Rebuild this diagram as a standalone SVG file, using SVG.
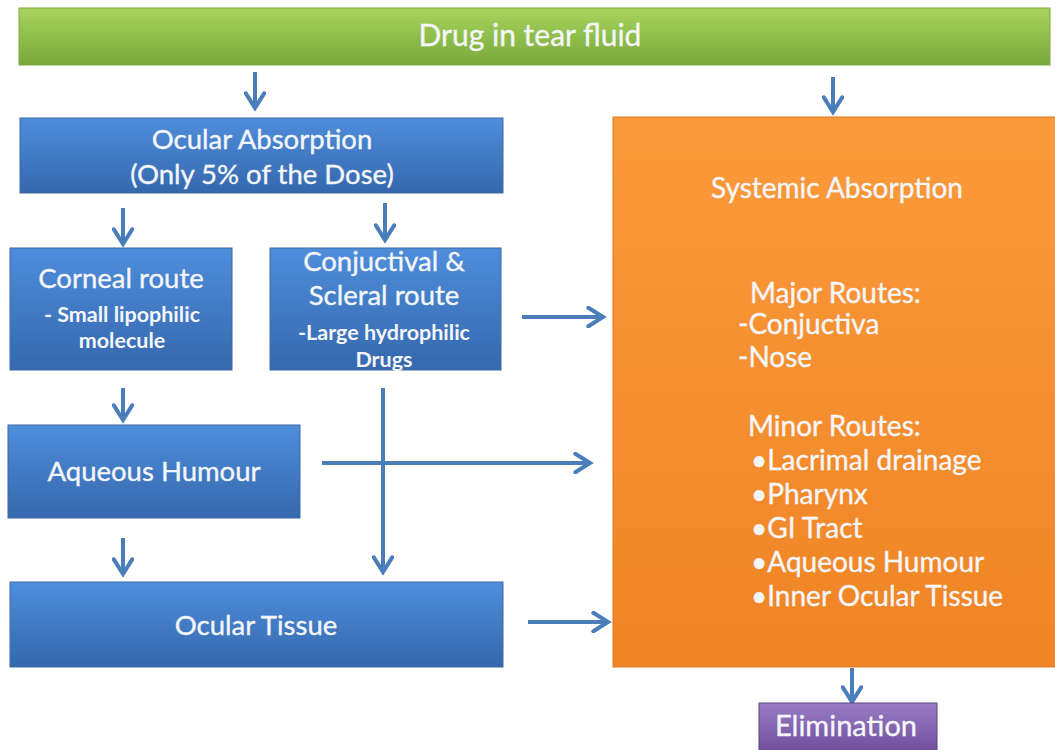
<svg xmlns="http://www.w3.org/2000/svg" width="1055" height="750" viewBox="0 0 1055 750">
<style>
.t{font-family:Lato,"Open Sans","Liberation Sans",sans-serif;fill:#f4f6fa;stroke:#f4f6fa;stroke-width:0.35;text-anchor:middle}
.l{text-anchor:start}
.s{font-weight:bold;stroke-width:0}
.b{stroke:#3d6aa3;stroke-width:1}
.c{fill:none;stroke:#4a7ebb;stroke-width:4;marker-end:url(#ah)}
</style>
<defs>
<linearGradient id="gb" x1="0" y1="0" x2="0" y2="1"><stop offset="0" stop-color="#4f8ddb"/><stop offset="1" stop-color="#3568ad"/></linearGradient>
<linearGradient id="gg" x1="0" y1="0" x2="0" y2="1"><stop offset="0" stop-color="#a8d45e"/><stop offset="1" stop-color="#78a83a"/></linearGradient>
<linearGradient id="go" x1="0" y1="0" x2="0" y2="1"><stop offset="0" stop-color="#fb9a3c"/><stop offset="1" stop-color="#ef8424"/></linearGradient>
<linearGradient id="gp" x1="0" y1="0" x2="0" y2="1"><stop offset="0" stop-color="#9a7cc4"/><stop offset="1" stop-color="#6c4c9a"/></linearGradient>
<marker id="ah" viewBox="0 0 12 12" refX="10" refY="6" markerWidth="5.5" markerHeight="5.5" orient="auto"><path d="M2,1 L10,6 L2,11" fill="none" stroke="#4a7ebb" stroke-width="2.2" stroke-linecap="round"/></marker>
</defs>
<rect width="1055" height="750" fill="#ffffff"/>
<g id="connectors">
<path class="c" d="M255,72 V108"/>
<path class="c" d="M833,77 V112"/>
<path class="c" d="M123,208 V244"/>
<path class="c" d="M385,203 V240"/>
<path class="c" d="M522,317 H603"/>
<path class="c" d="M123,388 V420"/>
<path class="c" d="M322,463 H590"/>
<path class="c" d="M383,388 V572"/>
<path class="c" d="M123,538 V574"/>
<path class="c" d="M528,622 H608"/>
<path class="c" d="M852,668 V702"/>
</g>
<g id="drug">
<rect x="19" y="8" width="1031" height="57" fill="url(#gg)" stroke="#7fa945"/>
<text class="t" x="530" y="46" font-size="30">Drug in tear fluid</text>
</g>
<g id="ocular-absorption">
<rect x="20" y="118" width="483" height="75" fill="url(#gb)" class="b"/>
<text class="t" x="262" y="149" font-size="27.5">Ocular Absorption</text>
<text class="t" x="262" y="184" font-size="27.5">(Only 5% of the Dose)</text>
</g>
<g id="corneal">
<rect x="10" y="248" width="222" height="122" fill="url(#gb)" class="b"/>
<text class="t" x="121" y="288" font-size="27.5">Corneal route</text>
<text class="t s" x="122" y="322" font-size="21.5">- Small lipophilic</text>
<text class="t s" x="122" y="348" font-size="21.5">molecule</text>
</g>
<g id="conjunctival">
<rect x="270" y="248" width="231" height="122" fill="url(#gb)" class="b"/>
<text class="t" x="384" y="271" font-size="27.5">Conjuctival &amp;</text>
<text class="t" x="384" y="305" font-size="27.5">Scleral route</text>
<text class="t s" x="384" y="340" font-size="21.5">-Large hydrophilic</text>
<text class="t s" x="384" y="367" font-size="21.5">Drugs</text>
</g>
<g id="aqueous">
<rect x="8" y="425" width="292" height="93" fill="url(#gb)" class="b"/>
<text class="t" x="154" y="481" font-size="27.5">Aqueous Humour</text>
</g>
<g id="ocular-tissue">
<rect x="10" y="582" width="493" height="85" fill="url(#gb)" class="b"/>
<text class="t" x="256" y="635" font-size="27.5">Ocular Tissue</text>
</g>
<g id="systemic">
<rect x="613" y="117" width="450" height="550" fill="url(#go)" stroke="#e0791c"/>
<text class="t" x="837" y="198" font-size="28">Systemic Absorption</text>
<text class="t l" x="750" y="303" font-size="28">Major Routes:</text>
<text class="t l" x="738" y="334" font-size="28">-Conjuctiva</text>
<text class="t l" x="738" y="367" font-size="28">-Nose</text>
<text class="t l" x="748" y="436" font-size="28">Minor Routes:</text>
<text class="t l" x="751" y="470" font-size="28">•Lacrimal drainage</text>
<text class="t l" x="751" y="504" font-size="28">•Pharynx</text>
<text class="t l" x="751" y="538" font-size="28">•GI Tract</text>
<text class="t l" x="751" y="572" font-size="28">•Aqueous Humour</text>
<text class="t l" x="751" y="606" font-size="28">•Inner Ocular Tissue</text>
</g>
<g id="elimination">
<rect x="759" y="703" width="178" height="52" fill="url(#gp)" stroke="#5e4288"/>
<text class="t" x="846" y="736" font-size="29">Elimination</text>
</g>
</svg>
